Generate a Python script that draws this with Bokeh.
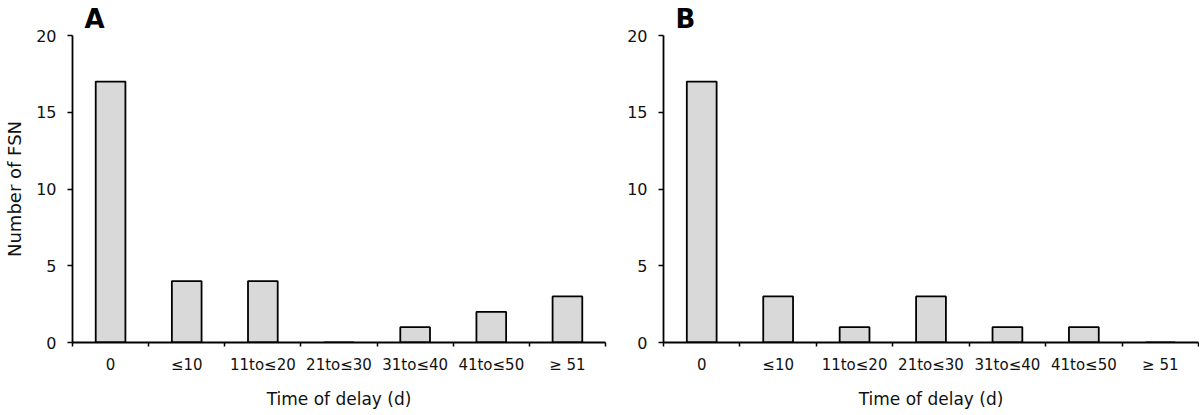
from bokeh.plotting import figure
from bokeh.layouts import row
from bokeh.models import Range1d, FixedTicker, ColumnDataSource
from bokeh.embed import file_html
from bokeh.resources import INLINE

categories = ["0", "≤10", "11to≤20", "21to≤30", "31to≤40", "41to≤50", "≥ 51"]
counts_a = [17, 4, 4, 0, 1, 2, 3]
counts_b = [17, 3, 1, 3, 1, 1, 0]
y_ticks = [0, 5, 10, 15, 20]
x_label = "Time of delay (d)"
y_label = "Number of FSN"
panels = ["A", "B"]

FONT = "DejaVu Sans"


def make_panel(counts, letter, width, border_left, border_right, show_ylabel):
    n = len(categories)
    p = figure(width=width, height=414, output_backend="svg", toolbar_location=None,
               x_range=Range1d(0, n), y_range=Range1d(0, 20),
               min_border_left=border_left, min_border_right=border_right,
               min_border_top=0, min_border_bottom=72)
    p.outline_line_color = None
    p.xgrid.visible = False
    p.ygrid.visible = False
    p.background_fill_color = "white"
    p.border_fill_color = "white"

    p.title.text = letter
    p.title.text_font = FONT
    p.title.text_font_size = "26px"
    p.title.text_font_style = "bold"
    p.title.text_color = "black"
    p.title.align = "left"
    p.title.offset = 12
    p.title.standoff = 3

    centers = [i + 0.5 for i in range(n)]
    src = ColumnDataSource(dict(x=centers, top=counts, cat=categories))
    p.vbar(x="x", top="top", bottom=0, width=0.39, source=src,
           fill_color="#d9d9d9", line_color="black", line_width=1.8)

    # x axis: labels at band centres, ticks at band boundaries
    xa = p.xaxis[0]
    xa.ticker = FixedTicker(ticks=centers, minor_ticks=list(range(n + 1)))
    xa.major_label_overrides = {c: cat for c, cat in zip(centers, categories)}
    xa.major_tick_out = 0
    xa.major_tick_in = 0
    xa.minor_tick_out = 4
    xa.minor_tick_in = 0
    xa.minor_tick_line_width = 1.5
    xa.axis_line_width = 1.8
    xa.axis_line_color = "black"
    xa.minor_tick_line_color = "black"
    xa.major_label_text_font = FONT
    xa.major_label_text_font_size = "15px"
    xa.major_label_text_color = "#111111"
    xa.major_label_standoff = 9
    xa.axis_label = x_label
    xa.axis_label_text_font = FONT
    xa.axis_label_text_font_size = "17px"
    xa.axis_label_text_font_style = "normal"
    xa.axis_label_text_color = "#111111"
    xa.axis_label_standoff = 12

    ya = p.yaxis[0]
    ya.ticker = FixedTicker(ticks=y_ticks, minor_ticks=[])
    ya.major_tick_out = 5
    ya.major_tick_in = 0
    ya.major_tick_line_width = 1.5
    ya.major_tick_line_color = "black"
    ya.axis_line_width = 1.8
    ya.axis_line_color = "black"
    ya.major_label_text_font = FONT
    ya.major_label_text_font_size = "16px"
    ya.major_label_text_color = "#111111"
    ya.major_label_standoff = 11
    if show_ylabel:
        ya.axis_label = y_label
        ya.axis_label_text_font = FONT
        ya.axis_label_text_font_size = "18px"
        ya.axis_label_text_font_style = "normal"
        ya.axis_label_text_color = "#111111"
        ya.axis_label_standoff = 8
    return p


pa = make_panel(counts_a, panels[0], 614, 72, 9, True)
pb = make_panel(counts_b, panels[1], 585, 49, 1, False)

layout = row(pa, pb)
open("out.html", "w").write(file_html(layout, INLINE))
